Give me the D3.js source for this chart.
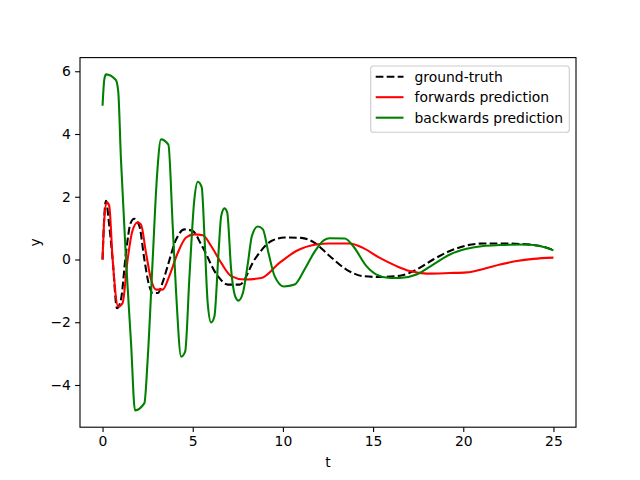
<html>
<head>
<meta charset="utf-8">
<script src="https://d3js.org/d3.v7.min.js"></script>
<style>
body { margin: 0; background: #fff; }
svg { font-family: 'DejaVu Sans', sans-serif; }
text { fill: #000; }
</style>
</head>
<body>
<div id="plot"></div>
<script>

// values
var truthT = [0, 0.1, 0.19, 0.35, 0.56, 0.8, 1.02, 1.3, 1.55, 1.76, 2.04, 2.32, 2.55, 2.78, 3.06, 3.35, 3.61, 4.08, 4.54, 5.0, 5.47, 6.39, 6.94, 7.6, 8.43, 9.36, 10.1, 11.02, 11.76, 12.59, 13.52, 14.44, 15.37, 16.48, 17.41, 18.33, 19.26, 20.19, 21.11, 22.04, 23.33, 24.26, 25];
var truthY = [0, 1.4, 1.87, 1.2, 0, -1.55, -1.28, 0.21, 1.15, 1.3, 1.07, 0, -0.75, -1.07, -1.07, -0.7, -0.21, 0.64, 0.96, 0.91, 0.48, -0.53, -0.8, -0.8, 0, 0.59, 0.7, 0.69, 0.53, 0.11, -0.32, -0.53, -0.56, -0.52, -0.32, 0, 0.27, 0.45, 0.51, 0.51, 0.49, 0.43, 0.3];

var fwdT = [0, 0.1, 0.24, 0.37, 0.56, 0.87, 1.11, 1.39, 1.65, 1.94, 2.13, 2.41, 2.69, 2.97, 3.33, 3.7, 4.17, 4.63, 5.09, 5.56, 6.02, 6.58, 7.13, 7.87, 8.8, 9.81, 10.74, 11.85, 12.59, 13.7, 14.44, 15.37, 16.3, 17.04, 17.97, 19.26, 20.19, 21.11, 22.04, 22.96, 23.89, 25];
var fwdY = [0, 1.3, 1.82, 1.71, 0, -1.5, -1.39, 0, 0.9, 1.18, 1.12, 0.21, -0.64, -0.96, -0.96, -0.53, 0.21, 0.7, 0.8, 0.77, 0.43, -0.11, -0.53, -0.64, -0.59, -0.11, 0.27, 0.48, 0.51, 0.51, 0.37, 0.05, -0.21, -0.37, -0.45, -0.43, -0.41, -0.3, -0.16, -0.05, 0.02, 0.06];

var bwdT = [0, 0.1, 0.19, 0.74, 0.87, 1.02, 1.3, 1.58, 1.8, 2.32, 2.5, 2.78, 3.02, 3.24, 3.65, 3.89, 4.08, 4.36, 4.58, 4.82, 5.09, 5.28, 5.5, 5.65, 5.83, 6.02, 6.2, 6.43, 6.58, 6.76, 6.91, 7.13, 7.36, 7.54, 7.78, 8.06, 8.28, 8.61, 8.89, 9.2, 9.54, 10.06, 10.65, 11.2, 11.76, 12.28, 12.59, 13.43, 13.89, 14.63, 15.19, 15.93, 16.48, 17.41, 18.33, 19.26, 20.19, 21.11, 22.04, 23.52, 24.26, 25];
var bwdY = [4.9, 5.75, 5.9, 5.72, 5.35, 3.2, 0, -2.66, -4.81, -4.58, -3.2, 0, 2.67, 3.83, 3.66, 1.07, -1.07, -3.1, -2.94, -0.53, 1.92, 2.48, 2.3, 0.75, -1.39, -2.01, -1.82, 0.21, 1.39, 1.63, 1.5, -0.32, -1.18, -1.31, -1.07, -0.11, 0.75, 1.05, 0.96, 0.21, -0.53, -0.86, -0.8, -0.32, 0.25, 0.62, 0.68, 0.67, 0.43, -0.21, -0.48, -0.59, -0.59, -0.48, -0.16, 0.16, 0.34, 0.43, 0.46, 0.48, 0.43, 0.29];

var xTicks = [0, 5, 10, 15, 20, 25];
var yTicks = [-4, -2, 0, 2, 4, 6];

var series = [
  { name: "ground-truth", t: truthT, y: truthY, color: "#000000", dash: "7.7,3.3" },
  { name: "forwards prediction", t: fwdT, y: fwdY, color: "#ff0000", dash: null },
  { name: "backwards prediction", t: bwdT, y: bwdY, color: "#008000", dash: null }
];

var width = 640, height = 480;
// note: "top" is taken by window.top, so prefix these
var axLeft = 80, axRight = 576, axTop = 57.6, axBottom = 427.2;

var svg = d3.select("#plot").append("svg")
  .attr("width", width).attr("height", height);

// matplotlib style 5% margins
var xExtent = [0, 25];
var yLo = d3.min(series, s => d3.min(s.y)), yHi = d3.max(series, s => d3.max(s.y));
var xPad = (xExtent[1] - xExtent[0]) * 0.05, yPad = (yHi - yLo) * 0.05;

var xScale = d3.scaleLinear().domain([xExtent[0] - xPad, xExtent[1] + xPad]).range([axLeft, axRight]);
var yScale = d3.scaleLinear().domain([yLo - yPad, yHi + yPad]).range([axBottom, axTop]);

var line = d3.line()
  .x(d => xScale(d[0]))
  .y(d => yScale(d[1]))
  .curve(d3.curveMonotoneX);

var plot = svg.append("g");
series.forEach(function (s) {
  var pts = s.t.map((t, i) => [t, s.y[i]]);
  plot.append("path")
    .attr("d", line(pts))
    .style("fill", "none")
    .style("stroke", s.color)
    .style("stroke-width", 2.08)
    .style("stroke-dasharray", s.dash)
    .style("stroke-linejoin", "round");
});

// axes
var xAxis = svg.append("g")
  .attr("transform", "translate(0," + axBottom + ")")
  .call(d3.axisBottom(xScale).tickValues(xTicks).tickFormat(d3.format("d"))
    .tickSize(4.9).tickSizeOuter(0).tickPadding(4.2));
var yAxis = svg.append("g")
  .attr("transform", "translate(" + axLeft + ",0)")
  .call(d3.axisLeft(yScale).tickValues(yTicks).tickFormat(d3.format("d"))
    .tickSize(4.9).tickSizeOuter(0).tickPadding(4.2));

[xAxis, yAxis].forEach(function (a) {
  a.select(".domain").remove();
  a.selectAll("line").style("stroke", "#000").style("stroke-width", 1.1);
  a.selectAll("text").style("font-size", "13.9px").style("font-family", "'DejaVu Sans', sans-serif");
});

svg.append("rect")
  .attr("x", axLeft).attr("y", axTop)
  .attr("width", axRight - axLeft).attr("height", axBottom - axTop)
  .style("fill", "none").style("stroke", "#000").style("stroke-width", 1.1);

svg.append("text")
  .attr("x", (axLeft + axRight) / 2).attr("y", 467)
  .attr("text-anchor", "middle")
  .style("font-size", "13.9px")
  .text("t");

svg.append("text")
  .attr("transform", "translate(40," + ((axTop + axBottom) / 2) + ") rotate(-90)")
  .attr("text-anchor", "middle")
  .style("font-size", "13.9px")
  .text("y");

// legend
var legend = svg.append("g");
legend.append("rect")
  .attr("x", 370.7).attr("y", 66)
  .attr("width", 198.6).attr("height", 66.3)
  .attr("rx", 2.8)
  .style("fill", "#fff").style("fill-opacity", 0.8)
  .style("stroke", "#cccccc").style("stroke-width", 1.1);

series.forEach(function (s, i) {
  var cy = 76.7 + i * 20.5;
  legend.append("line")
    .attr("x1", 375.7).attr("x2", 403.5)
    .attr("y1", cy).attr("y2", cy)
    .style("stroke", s.color)
    .style("stroke-width", 2.08)
    .style("stroke-dasharray", s.dash);
  legend.append("text")
    .attr("x", 414.5).attr("y", cy + 4.9)
    .style("font-size", "13.9px")
    .text(s.name);
});

</script>
</body>
</html>
